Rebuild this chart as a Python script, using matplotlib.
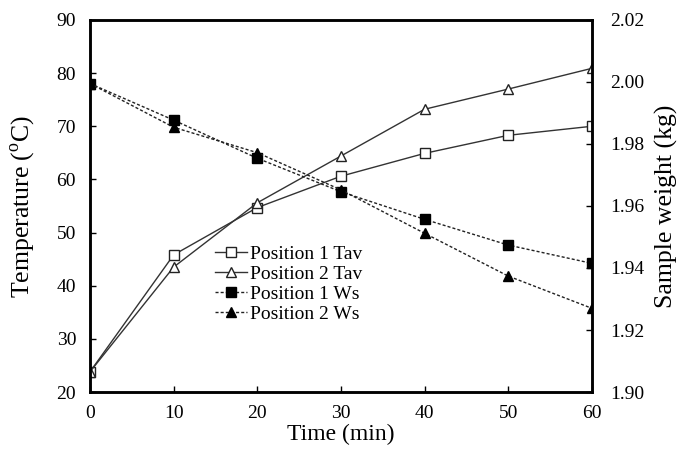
import matplotlib
matplotlib.use("Agg")
import matplotlib.pyplot as plt

time = [0, 10, 20, 30, 40, 50, 60]
tav_pos1 = [23.8, 45.8, 54.7, 60.6, 64.9, 68.3, 70.0]
tav_pos2 = [23.8, 43.5, 55.6, 64.4, 73.2, 77.0, 80.9]
ws_pos1 = [1.9995, 1.9877, 1.9754, 1.9646, 1.9557, 1.9474, 1.9415]
ws_pos2 = [1.9995, 1.9854, 1.9772, 1.9652, 1.9512, 1.9374, 1.9270]
left_ticks = [20, 30, 40, 50, 60, 70, 80, 90]
right_ticks = [1.90, 1.92, 1.94, 1.96, 1.98, 2.00, 2.02]

plt.rcParams['font.family'] = ['Liberation Serif', 'DejaVu Serif']
plt.rcParams['mathtext.fontset'] = 'custom'
plt.rcParams['mathtext.rm'] = 'Liberation Serif'

fig = plt.figure(figsize=(6.89, 4.51), dpi=100)
ax = fig.add_axes([0.1306, 0.1308, 0.7284, 0.8249])
ax2 = ax.twinx()

dash = (0, (2.2, 1.5))
l1, = ax.plot(time, tav_pos1, '-', color='#333333', lw=1.0, marker='s', ms=7,
              mfc='white', mec='#222222', mew=1.0, label='Position 1 Tav')
l2, = ax.plot(time, tav_pos2, '-', color='#333333', lw=1.0, marker='^', ms=7,
              mfc='white', mec='#222222', mew=1.0, label='Position 2 Tav')
l3, = ax2.plot(time, ws_pos1, linestyle=dash, color='#222222', lw=1.0,
               marker='s', ms=7, mfc='black', mec='black', label='Position 1 Ws')
l4, = ax2.plot(time, ws_pos2, linestyle=dash, color='#222222', lw=1.0,
               marker='^', ms=7, mfc='black', mec='black', label='Position 2 Ws')

ax.set_xlim(0, 60)
ax.set_ylim(20, 90)
ax2.set_ylim(1.90, 2.02)
ax.set_xticks(time)
ax.set_yticks(left_ticks)
ax2.set_yticks(right_ticks)
ax2.set_yticklabels([f"{v:.2f}" for v in right_ticks])

ax.tick_params(axis='x', direction='in', length=4, width=1.0, labelsize=14, pad=9)
ax.tick_params(axis='y', direction='in', length=4, width=1.0, labelsize=14, pad=10)
ax2.tick_params(axis='y', direction='in', length=4, width=1.0, labelsize=14, pad=13)
for a in (ax, ax2):
    for s in a.spines.values():
        s.set_linewidth(1.8)

ax.set_xlabel('Time (min)', fontsize=17, labelpad=2)
ax.set_ylabel('Temperature ($^{\\mathregular{o}}$C)', fontsize=18.5, labelpad=14)
ax2.set_ylabel('Sample weight (kg)', fontsize=18.5, labelpad=8)

leg = ax.legend(handles=[l1, l2, l3, l4], loc='upper left',
                bbox_to_anchor=(0.249, 0.395), frameon=False, fontsize=14,
                handlelength=1.65, handletextpad=0.15, labelspacing=0.12,
                borderaxespad=0, borderpad=0)

fig.savefig('out.png', dpi=100)
